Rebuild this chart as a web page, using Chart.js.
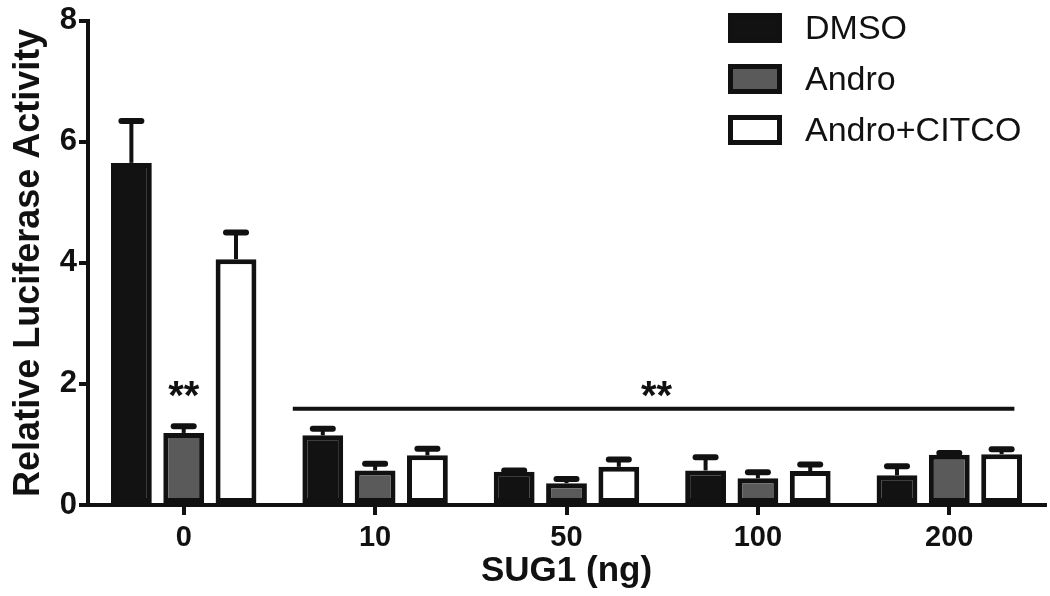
<!DOCTYPE html>
<html>
<head>
<meta charset="utf-8">
<script src="https://cdn.jsdelivr.net/npm/chart.js@4/dist/chart.umd.min.js"></script>
<style>
  html, body { margin: 0; padding: 0; background: #fff; }
  #wrap { width: 1050px; height: 596px; }
</style>
</head>
<body>
<div id="wrap"><canvas id="chart" width="1050" height="596"></canvas></div>
<script>
// values
const groups = ['0', '10', '50', '100', '200'];
const seriesNames = ['DMSO', 'Andro', 'Andro+CITCO'];
const dmso = [5.65, 1.15, 0.55, 0.57, 0.49];
const dmsoErr = [0.69, 0.11, 0.02, 0.22, 0.15];
const andro = [1.19, 0.57, 0.36, 0.44, 0.83];
const androErr = [0.11, 0.11, 0.07, 0.10, 0.03];
const citco = [4.06, 0.82, 0.63, 0.56, 0.84];
const citcoErr = [0.44, 0.11, 0.12, 0.11, 0.08];
const yTicks = [0, 2, 4, 6, 8];

// significance marks (x in category units, y in data units)
const sigLineX = [0.57, 4.34];
const sigLineY = 1.59;
const starX = [0, 2.47];
const starY = [1.9, 1.9];

const INK = '#111';
const FONT = "'Liberation Sans', Arial, sans-serif";

const errorBars = {
  id: 'errorBars',
  afterDatasetsDraw(chart) {
    const ctx = chart.ctx;
    const y = chart.scales.y;
    ctx.save();
    ctx.strokeStyle = INK;
    chart.data.datasets.forEach((ds, i) => {
      const meta = chart.getDatasetMeta(i);
      meta.data.forEach((bar, j) => {
        const top = y.getPixelForValue(ds.data[j] + ds.errors[j]);
        const base = y.getPixelForValue(ds.data[j]);
        ctx.lineWidth = 4;
        ctx.lineCap = 'butt';
        ctx.beginPath();
        ctx.moveTo(bar.x, base);
        ctx.lineTo(bar.x, top);
        ctx.stroke();
        ctx.lineWidth = 6;
        ctx.lineCap = 'round';
        ctx.beginPath();
        ctx.moveTo(bar.x - 10, top);
        ctx.lineTo(bar.x + 10, top);
        ctx.stroke();
      });
    });
    ctx.restore();
  }
};

const marks = {
  id: 'marks',
  afterDraw(chart) {
    const ctx = chart.ctx;
    const {x, y} = chart.scales;
    ctx.save();
    // significance line
    ctx.strokeStyle = INK;
    ctx.lineWidth = 4;
    ctx.beginPath();
    ctx.moveTo(x.getPixelForValue(sigLineX[0]), y.getPixelForValue(sigLineY));
    ctx.lineTo(x.getPixelForValue(sigLineX[1]), y.getPixelForValue(sigLineY));
    ctx.stroke();
    // stars
    ctx.fillStyle = INK;
    ctx.font = 'bold 40px ' + FONT;
    ctx.textAlign = 'center';
    ctx.textBaseline = 'middle';
    starX.forEach((sx, k) => {
      ctx.fillText('**', x.getPixelForValue(sx), y.getPixelForValue(starY[k]) + 8);
    });
    // legend
    ctx.font = '34px ' + FONT;
    ctx.textAlign = 'left';
    chart.data.datasets.forEach((ds, i) => {
      const by = 13 + i * 51;
      ctx.fillStyle = ds.backgroundColor;
      ctx.fillRect(728, by, 54, 30);
      ctx.strokeStyle = INK;
      ctx.lineWidth = 5;
      ctx.strokeRect(730.5, by + 2.5, 49, 25);
      ctx.fillStyle = INK;
      ctx.fillText(ds.label, 805, by + 17);
    });
    ctx.restore();
  }
};

const makeSet = (label, data, errors, fill) => ({
  label, data, errors,
  backgroundColor: fill,
  borderColor: INK,
  borderWidth: 5,
  borderSkipped: false
});

new Chart(document.getElementById('chart').getContext('2d'), {
  type: 'bar',
  data: {
    labels: groups,
    datasets: [
      makeSet(seriesNames[0], dmso, dmsoErr, '#121212'),
      makeSet(seriesNames[1], andro, androErr, '#5a5a5a'),
      makeSet(seriesNames[2], citco, citcoErr, '#ffffff')
    ]
  },
  options: {
    responsive: false,
    animation: false,
    categoryPercentage: 0.82,
    barPercentage: 0.78,
    layout: { padding: { top: 0, right: 5, left: 3, bottom: 0 } },
    plugins: {
      legend: { display: false },
      tooltip: { enabled: false }
    },
    scales: {
      x: {
        grid: { offset: false, drawOnChartArea: false, color: INK, lineWidth: 4, tickLength: 10 },
        border: { color: INK, width: 4 },
        ticks: { color: INK, font: { family: FONT, size: 29, weight: 'bold' }, padding: 6 },
        title: { display: true, text: 'SUG1 (ng)', color: INK, font: { family: FONT, size: 35, weight: 'bold' }, padding: { top: 3 } },
        afterFit: s => { s.height = 91; }
      },
      y: {
        min: 0,
        max: 8,
        afterBuildTicks: s => { s.ticks = yTicks.map(v => ({ value: v })); },
        grid: { drawOnChartArea: false, color: INK, lineWidth: 4, tickLength: 9 },
        border: { color: INK, width: 4 },
        ticks: { color: INK, font: { family: FONT, size: 31, weight: 'bold' }, padding: 2 },
        title: { display: true, text: 'Relative Luciferase Activity', color: INK, font: { family: FONT, size: 36, weight: 'bold' }, padding: { bottom: 4 } },
        afterFit: s => { s.width = 85; }
      }
    }
  },
  plugins: [errorBars, marks]
});
</script>
</body>
</html>
